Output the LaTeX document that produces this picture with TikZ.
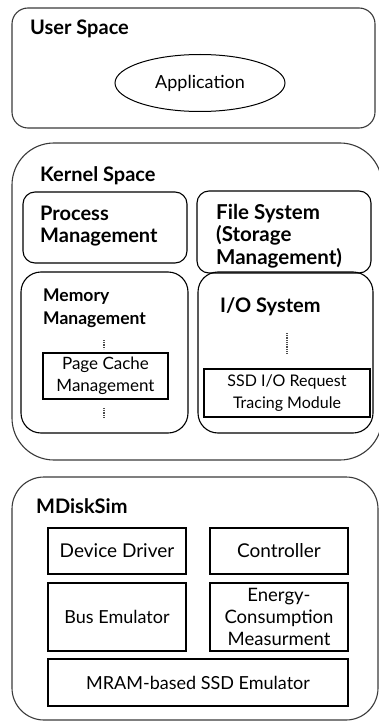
\documentclass[tikz,border=0pt]{standalone}
\usepackage{fontspec}
\setmainfont{Lato}
\usetikzlibrary{shapes.geometric}
\definecolor{edge}{HTML}{3A3A3A}
\begin{document}
\begin{tikzpicture}[x=1pt,y=-1pt,
  layer/.style={draw=edge,line width=1.1pt},
  group/.style={draw=black,line width=1.1pt},
  unit/.style={draw=black,line width=1.1pt,inner sep=0pt,align=center},
  title/.style={anchor=base west,inner sep=0pt,align=left,font=\fontsize{20}{22}\selectfont\bfseries},
  ellipsis/.style={draw=black!70,line width=1.2pt,dash pattern=on 0.9pt off 0.9pt}]
\useasboundingbox (0,0) rectangle (379,722);
\clip (0,0) rectangle (379,722);

% user space
\draw[layer,rounded corners=16pt] (12,8) rectangle (375,128);
\node[title] (user) at (30,35) {User Space};
\node[draw,ellipse,line width=1pt,minimum width=170pt,minimum height=57pt,
      inner sep=0pt,font=\fontsize{18}{20}\selectfont] (app) at (200,83) {Application};

% kernel space
\draw[layer,rounded corners=42pt] (12,143) rectangle (382,460);
\node[title] (kernel) at (40,182) {Kernel Space};

\draw[group,rounded corners=12pt] (23,192) rectangle (187,263);
\node[title] (proc) at (40,242) {Process\\Management};

\draw[group,rounded corners=12pt] (197,191) rectangle (371,273);
\node[title,font=\fontsize{20.5}{22.5}\selectfont\bfseries] (fs) at (216,264) {File System\\(Storage\\Management)};

\draw[group,rounded corners=20pt] (21,272) rectangle (188,433);
\node[title,font=\fontsize{17.5}{23}\selectfont\bfseries] (mem) at (43,324) {Memory\\Management};
\node[draw,unit,minimum width=125pt,minimum height=46pt,
      font=\fontsize{17}{22}\selectfont] (cache) at (105.5,376) {Page Cache\\Management};
\coordinate (m1a) at (104,340);
\coordinate (m1b) at (104,349);
\coordinate (m2a) at (104,408);
\coordinate (m2b) at (104,418);
\draw[ellipsis] (m1a) -- (m1b);
\draw[ellipsis] (m2a) -- (m2b);

\draw[group,rounded corners=20pt] (198,272) rectangle (373,433);
\node[title] (io) at (220,312) {I/O System};
\coordinate (i1a) at (287,333);
\coordinate (i1b) at (287,353);
\draw[ellipsis] (i1a) -- (i1b);
\node[draw,unit,minimum width=166pt,minimum height=48pt,
      font=\fontsize{16}{22}\selectfont] (trace) at (287,393) {SSD I/O Request\\Tracing Module};

% simulator
\draw[layer,rounded corners=32pt] (12,477) rectangle (378,720);
\node[title] (sim) at (36,513) {MDiskSim};

\node[draw,unit,minimum width=138pt,minimum height=46pt,font=\fontsize{19}{22}\selectfont] (drv) at (117,551) {Device Driver};
\node[draw,unit,minimum width=138pt,minimum height=46pt,font=\fontsize{19}{22}\selectfont] (ctl) at (279,551) {Controller};
\node[draw,unit,minimum width=138pt,minimum height=68pt,font=\fontsize{18}{22}\selectfont] (bus) at (117,617) {Bus Emulator};
\node[draw,unit,minimum width=138pt,minimum height=68pt,font=\fontsize{18.5}{22}\selectfont] (nrg) at (279,617) {Energy-\\Consumption\\Measurment};
\node[draw,unit,minimum width=300pt,minimum height=47pt,font=\fontsize{18}{22}\selectfont] (mram) at (198,682.5) {MRAM-based SSD Emulator};
\end{tikzpicture}
\end{document}
